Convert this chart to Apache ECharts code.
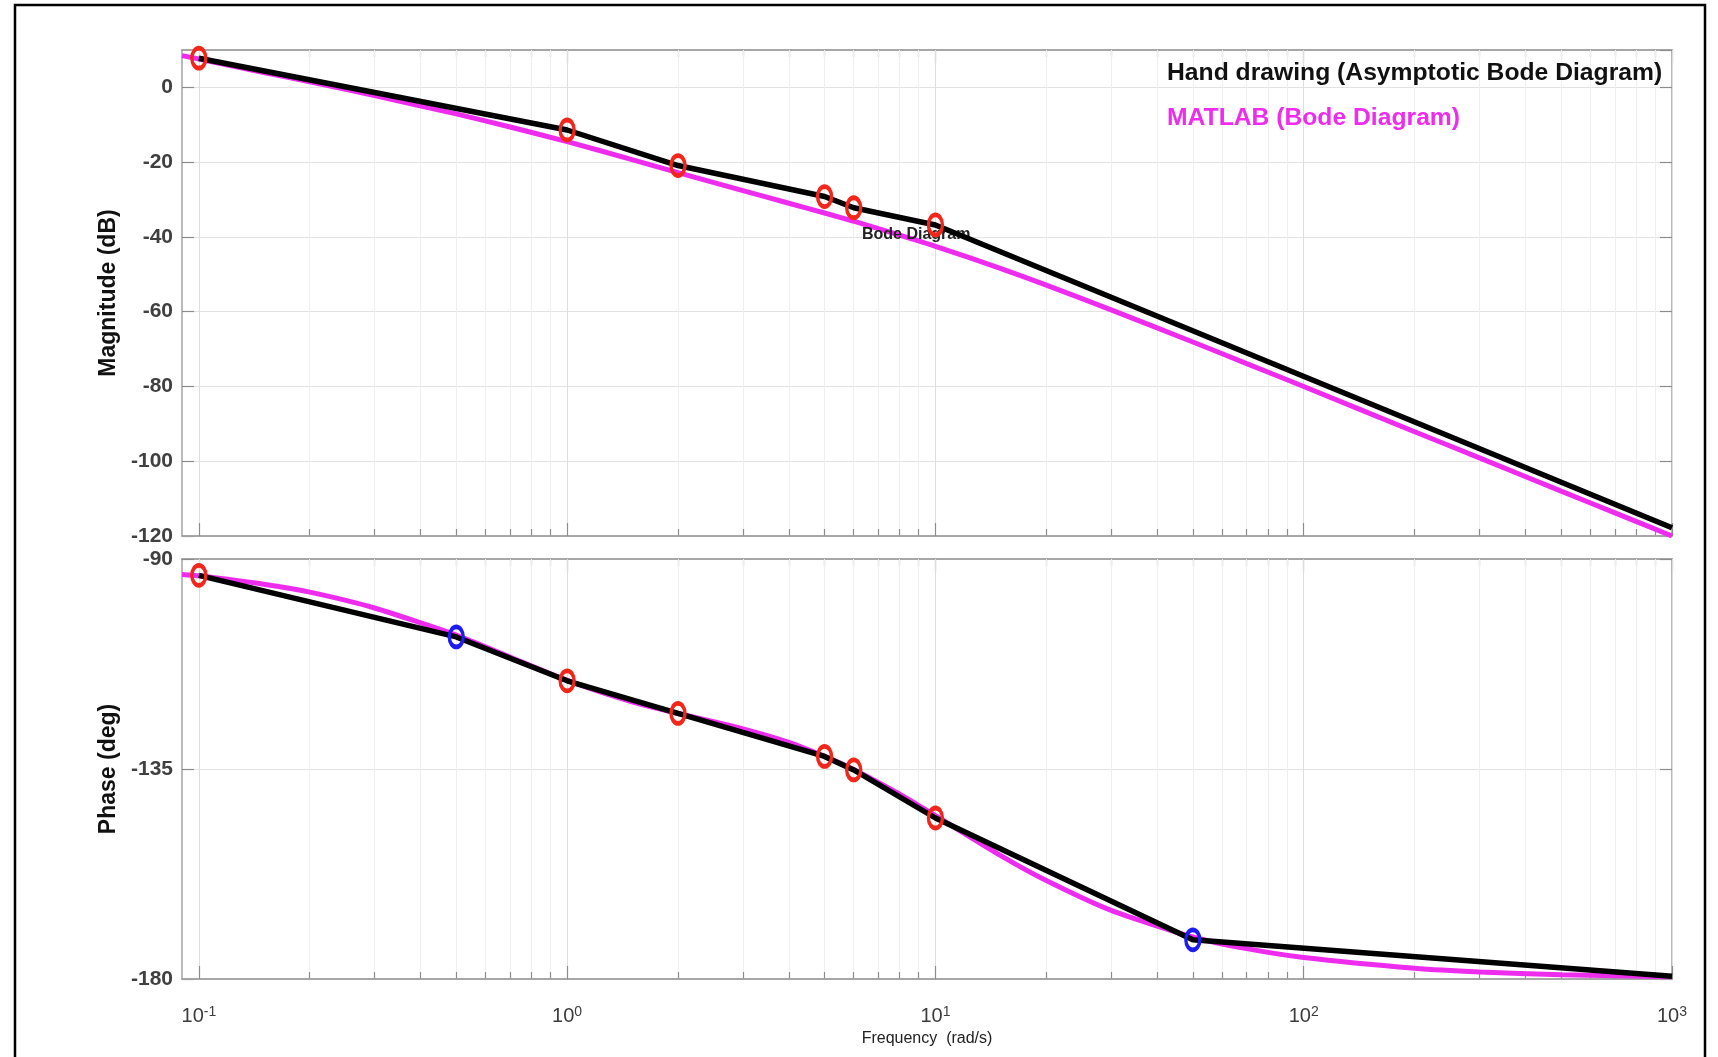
<!DOCTYPE html>
<html>
<head>
<meta charset="utf-8">
<title>Bode Diagram</title>
<script src="https://cdn.jsdelivr.net/npm/echarts@6/dist/echarts.min.js"></script>
<style>
  html, body { margin: 0; padding: 0; background: #fff; }
  #main { width: 1718px; height: 1057px; }
</style>
</head>
<body>
<div id="main"></div>
<script>
// decade tick labels on the frequency axis (rad/s)
var decadeTicks = [0.1, 1, 10, 100, 1000];

// MATLAB bode() curve
var matlabFreq = [0.09, 0.1, 0.15, 0.2, 0.3, 0.5, 0.7, 1, 1.5, 2, 3, 4, 5, 6, 7, 8, 10, 15, 20, 30, 50, 70, 100, 200, 300, 500, 700, 1000];
var matlabMag = [8.5, 7.6, 4.0, 1.5, -2.2, -7.1, -10.6, -14.5, -19.3, -22.8, -27.6, -31.0, -33.6, -35.8, -37.8, -39.5, -42.5, -48.4, -52.9, -59.5, -68.1, -73.9, -80.0, -92.1, -99.1, -108.0, -113.8, -120.0];
var matlabPhase = [-93.3, -93.6, -95.4, -97.1, -100.5, -106.3, -111.0, -116.0, -120.6, -123.1, -126.4, -129.3, -132.3, -135.1, -137.9, -140.4, -145.0, -153.5, -158.9, -165.3, -171.0, -173.5, -175.4, -177.7, -178.5, -179.1, -179.3, -179.5];

// hand drawn asymptotes (break points)
var handMagFreq = [0.1, 1, 2, 5, 6, 10, 1000];
var handMag = [7.8, -11.4, -20.9, -29.2, -32.2, -36.8, -117.8];
var handPhaseFreq = [0.1, 0.5, 1, 2, 5, 6, 10, 50, 1000];
var handPhase = [-93.5, -106.7, -116.1, -123.1, -132.3, -135.2, -145.5, -171.6, -179.4];
var bluePointFreq = [0.5, 50];

var HAND = 'Hand drawing (Asymptotic Bode Diagram)';
var MATLAB = 'MATLAB (Bode Diagram)';
var FONT = '"Liberation Sans", Arial, Helvetica, sans-serif';
var MAGENTA = '#ee2cee';
var RED = '#f2261a';
var BLUE = '#1c1cf0';
var RING = 'path://M10,0A10,10,0,1,1,10,20A10,10,0,1,1,10,0Z';

var minorTicks = [];
decadeTicks.slice(0, -1).forEach(function (d) {
	for (var k = 2; k <= 9; k++) {
		minorTicks.push(+(k * d).toPrecision(3));
	}
});

function pairs(xs, ys) {
	return xs.map(function (x, i) { return [x, ys[i]]; });
}

function handPoints(xs, ys) {
	return xs.map(function (x, i) {
		var last = i === xs.length - 1;
		return {
			value: [x, ys[i]],
			symbol: last ? 'none' : RING,
			itemStyle: { borderColor: bluePointFreq.indexOf(x) >= 0 ? BLUE : RED }
		};
	});
}

function xAxesFor(gridIndex, withLabels) {
	var frame = { show: true, onZero: false, lineStyle: { color: '#a3a3a3', width: 1.5 } };
	var tickStyle = { color: '#8c8c8c', width: 1.2 };
	var base = { type: 'log', logBase: 10, gridIndex: gridIndex, min: 0.09, max: 1000, axisLine: frame };
	var main = Object.assign({}, base, {
		position: 'bottom',
		z: 2,
		axisTick: { inside: true, length: 13, customValues: decadeTicks, lineStyle: tickStyle },
		splitLine: { show: true, lineStyle: { color: '#dedede', width: 1 } },
		axisLabel: withLabels ? {
			customValues: decadeTicks,
			margin: 26,
			formatter: function (v) {
				return '{b|10}{s|' + Math.round(Math.log10(v)) + '}';
			},
			rich: {
				b: { fontFamily: FONT, fontSize: 20, color: '#3c3c3c', lineHeight: 22 },
				s: { fontFamily: FONT, fontSize: 14, color: '#3c3c3c', verticalAlign: 'top', lineHeight: 14 }
			}
		} : { show: false }
	});
	if (withLabels) {
		main.name = 'Frequency  (rad/s)';
		main.nameLocation = 'middle';
		main.nameGap = 52;
		main.nameTextStyle = { fontFamily: FONT, fontSize: 16, color: '#222' };
	}
	var topMajor = Object.assign({}, base, {
		position: 'top',
		axisTick: { inside: true, length: 13, customValues: decadeTicks, lineStyle: tickStyle },
		splitLine: { show: false },
		axisLabel: { show: false }
	});
	var bottomMinor = Object.assign({}, base, {
		position: 'bottom',
		z: 1,
		axisTick: { inside: true, length: 7, customValues: minorTicks, lineStyle: tickStyle },
		splitLine: { show: true, lineStyle: { color: '#efefef', width: 1 } },
		axisLabel: { show: false }
	});
	var topMinor = Object.assign({}, base, {
		position: 'top',
		axisTick: { inside: true, length: 7, customValues: minorTicks, lineStyle: tickStyle },
		splitLine: { show: false },
		axisLabel: { show: false }
	});
	return [main, topMajor, bottomMinor, topMinor];
}

function yAxesFor(gridIndex, min, max, interval, name) {
	var frame = { show: true, onZero: false, lineStyle: { color: '#a3a3a3', width: 1.5 } };
	var tickStyle = { color: '#8c8c8c', width: 1.2 };
	return [
		{
			type: 'value', gridIndex: gridIndex, position: 'left',
			min: min, max: max, interval: interval,
			axisLine: frame,
			axisTick: { show: true, inside: true, length: 12, lineStyle: tickStyle },
			splitLine: { show: true, lineStyle: { color: '#e2e2e2', width: 1 } },
			axisLabel: { showMaxLabel: max % interval === 0, margin: 9, fontFamily: FONT, fontSize: 21, fontWeight: 'bold', color: '#404040' },
			name: name, nameLocation: 'middle', nameRotate: 90, nameGap: 51,
			nameTextStyle: { fontFamily: FONT, fontSize: 23, fontWeight: 'bold', color: '#111' }
		},
		{
			type: 'value', gridIndex: gridIndex, position: 'right',
			min: min, max: max, interval: interval,
			axisLine: frame,
			axisTick: { show: true, inside: true, length: 12, lineStyle: tickStyle },
			splitLine: { show: false },
			axisLabel: { show: false }
		}
	];
}

var chart = echarts.init(document.getElementById('main'));

var option = {
	animation: false,
	backgroundColor: '#fff',
	title: {
		text: 'Bode Diagram',
		left: 862, top: 227, padding: 0, z: 3,
		textStyle: { fontFamily: FONT, fontSize: 16, fontWeight: 'bold', color: '#222' }
	},
	legend: {
		orient: 'vertical', left: 1157, top: 54,
		itemWidth: 0, itemHeight: 0, itemGap: 17,
		selectedMode: false,
		textStyle: { fontFamily: FONT, fontWeight: 'bold', fontSize: 24.7, lineHeight: 28 },
		data: [
			{ name: HAND, icon: 'none', textStyle: { color: '#111' } },
			{ name: MATLAB, icon: 'none', textStyle: { color: MAGENTA } }
		]
	},
	grid: [
		{ left: 182, right: 46, top: 50, height: 486 },
		{ left: 182, right: 46, top: 559, height: 420 }
	],
	xAxis: xAxesFor(0, false).concat(xAxesFor(1, true)),
	yAxis: yAxesFor(0, -120, 10, 20, 'Magnitude (dB)').concat(yAxesFor(1, -180, -90, 45, 'Phase (deg)')),
	graphic: [
		{
			type: 'rect', silent: true, z: 0,
			shape: { x: 15, y: 5, width: 1690, height: 1100 },
			style: { fill: 'none', stroke: '#000', lineWidth: 2.5 }
		}
	],
	series: [
		{
			name: MATLAB, type: 'line', xAxisIndex: 0, yAxisIndex: 0, z: 2,
			data: pairs(matlabFreq, matlabMag),
			showSymbol: false, smooth: 0.2,
			lineStyle: { color: MAGENTA, width: 5 }, itemStyle: { color: MAGENTA }
		},
		{
			name: HAND, type: 'line', xAxisIndex: 0, yAxisIndex: 0, z: 4,
			data: handPoints(handMagFreq, handMag),
			symbolSize: [14, 20],
			lineStyle: { color: '#000', width: 5.5 },
			itemStyle: { color: 'rgba(0,0,0,0)', borderColor: RED, borderWidth: 4 }
		},
		{
			name: MATLAB, type: 'line', xAxisIndex: 4, yAxisIndex: 2, z: 2,
			data: pairs(matlabFreq, matlabPhase),
			showSymbol: false, smooth: 0.2,
			lineStyle: { color: MAGENTA, width: 5 }, itemStyle: { color: MAGENTA }
		},
		{
			name: HAND, type: 'line', xAxisIndex: 4, yAxisIndex: 2, z: 4,
			data: handPoints(handPhaseFreq, handPhase),
			symbolSize: [14, 20],
			lineStyle: { color: '#000', width: 5.5 },
			itemStyle: { color: 'rgba(0,0,0,0)', borderColor: RED, borderWidth: 4 }
		}
	]
};

chart.setOption(option);
</script>
</body>
</html>
